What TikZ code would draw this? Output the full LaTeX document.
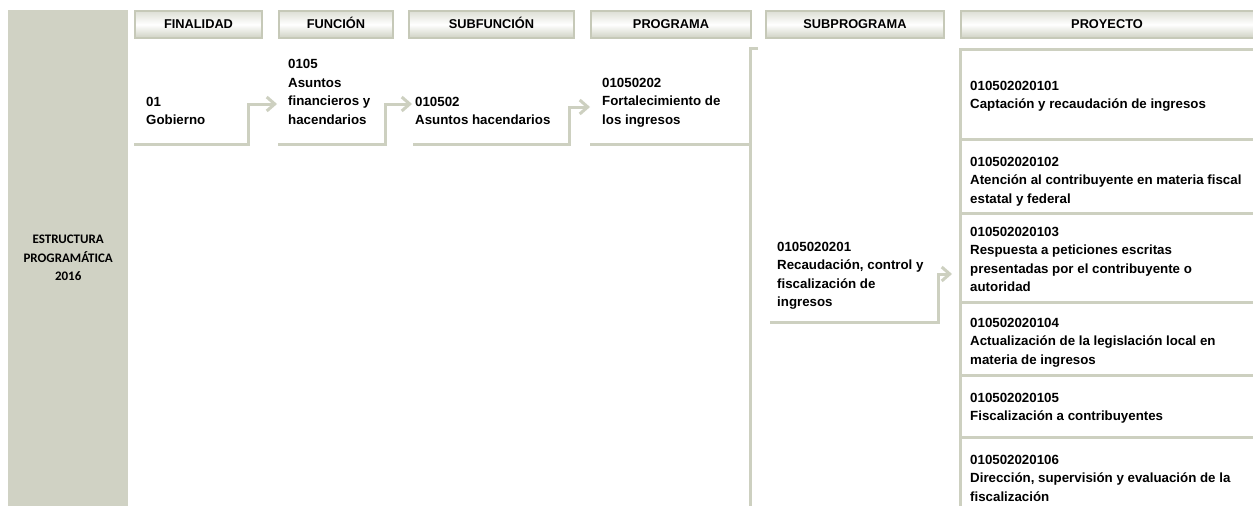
\documentclass[tikz,border=0pt]{standalone}
\usepackage{fontspec}
\setmainfont{Liberation Sans}
\newfontfamily\calfont{Carlito}
\usetikzlibrary{arrows.meta,positioning}
\definecolor{linegrey}{RGB}{205,208,192}
\definecolor{blockgrey}{RGB}{208,210,196}
\definecolor{hdrgrey}{RGB}{198,201,184}
\tikzset{
  hdr/.style={draw=hdrgrey, line width=2pt, top color=hdrgrey!60, bottom color=hdrgrey!85,
    middle color=white, anchor=north west, minimum height=27pt, inner sep=0pt,
    text height=9.5pt, text depth=2.5pt,
    font=\bfseries\fontsize{12.8}{15}\selectfont},
  item/.style={anchor=base west, align=left, inner sep=0pt,
    font=\bfseries\fontsize{13.3}{18.5}\selectfont},
  link/.style={draw=linegrey, line width=3pt},
  linkarrow/.style={link, -{Straight Barb[length=8pt,width=14pt]}},
}
\begin{document}
\begin{tikzpicture}[x=1pt,y=-1pt]
\useasboundingbox (0,0) rectangle (1253,506);
\clip (0,0) rectangle (1253,506);
% bloque izquierdo
\node[fill=blockgrey, anchor=north west, minimum width=120pt, minimum height=496pt, inner sep=0pt,
  align=center, font=\calfont\bfseries\fontsize{13}{18.5}\selectfont] (estr) at (8,10)
  {ESTRUCTURA\\PROGRAMÁTICA\\2016};
% encabezados
\node[hdr, minimum width=127pt] (hfin) at (134,10) {FINALIDAD};
\node[hdr, minimum width=114pt] (hfun) at (278,10) {FUNCIÓN};
\node[hdr, minimum width=165pt] (hsubfun) at (408,10) {SUBFUNCIÓN};
\node[hdr, minimum width=160pt] (hprog) at (590,10) {PROGRAMA};
\node[hdr, minimum width=178pt] (hsubprog) at (765,10) {SUBPROGRAMA};
\node[hdr, minimum width=300pt] (hproy) at (960,10) {\hspace*{-8pt}PROYECTO};
% claves (base = ultima linea)
\node[item] (fin) at (146,124.5) {01\\Gobierno};
\node[item] (fun) at (288,124) {0105\\Asuntos\\financieros y\\hacendarios};
\node[item] (subfun) at (415,124.5) {010502\\Asuntos hacendarios};
\node[item] (prog) at (602,124) {01050202\\Fortalecimiento de\\los ingresos};
\node[item] (subprog) at (777,306.5) {0105020201\\Recaudación, control y\\fiscalización de\\ingresos};
\node[item] (proy1) at (970,108.5) {010502020101\\Captación y recaudación de ingresos};
\node[item] (proy2) at (970,203) {010502020102\\Atención al contribuyente en materia fiscal\\estatal y federal};
\node[item] (proy3) at (970,291.5) {010502020103\\Respuesta a peticiones escritas\\presentadas por el contribuyente o\\autoridad};
\node[item] (proy4) at (970,364) {010502020104\\Actualización de la legislación local en\\materia de ingresos};
\node[item] (proy5) at (970,420.5) {010502020105\\Fiscalización a contribuyentes};
\node[item] (proy6) at (970,501) {010502020106\\Dirección, supervisión y evaluación de la\\fiscalización};
% puntos de las ligas
\coordinate (fin-ul) at (134,144);
\coordinate (fin-up) at (248,104);
\coordinate (fun-ul) at (278,144);
\coordinate (fun-up) at (385,104);
\coordinate (subfun-ul) at (413,144);
\coordinate (subfun-up) at (569,107);
\coordinate (prog-ul) at (590,144);
\coordinate (subprog-ul) at (770,322);
\coordinate (subprog-up) at (938,274);
% ligas
\draw[linkarrow, shorten >=11pt] (fin-ul) -| (fin-up) -- (fin-up -| fun.west);
\draw[linkarrow, shorten >=3pt] (fun-ul) -| (fun-up) -- (fun-up -| subfun.west);
\draw[linkarrow, shorten >=12pt] (subfun-ul) -| (subfun-up) -- (subfun-up -| prog.west);
\draw[link] (prog-ul) -- (750,144);
\draw[link] (758,48.5) -- (750,48.5) -- (750,507);
\draw[linkarrow, shorten >=18pt] (subprog-ul) -| (subprog-up) -- (subprog-up -| proy3.west);
% tabla de proyectos
\draw[link] (1254,49.5) -- (960,49.5) -- (960,507);
\foreach \y in {139.5,213,302,375,437}
  \draw[link] (960,\y) -- (1254,\y);
\end{tikzpicture}
\end{document}
